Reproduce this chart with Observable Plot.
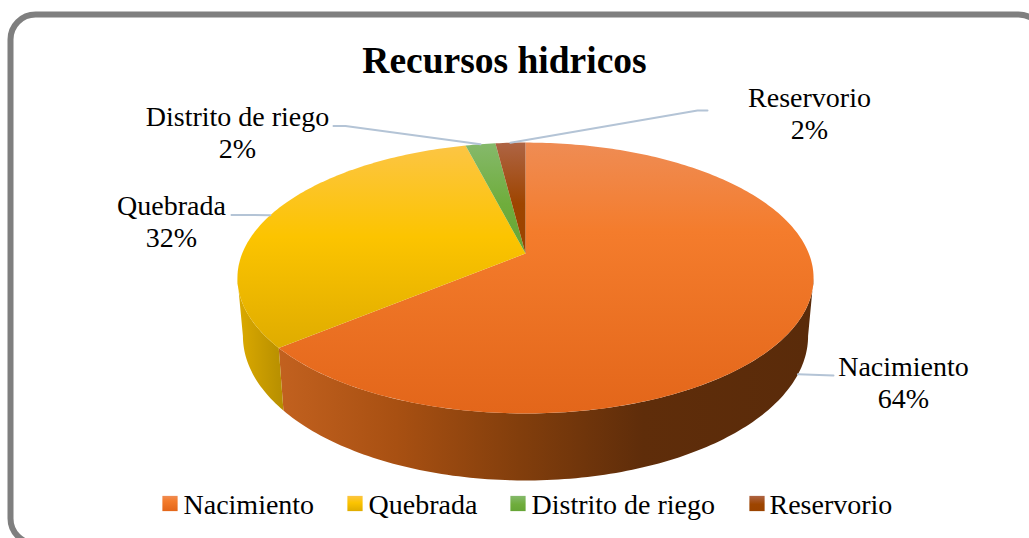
<!DOCTYPE html>
<html><head><meta charset="utf-8">
<style>html,body{margin:0;padding:0;background:#fff;overflow:hidden}</style>
<script src="https://cdn.jsdelivr.net/npm/d3@7"></script>
<script src="https://cdn.jsdelivr.net/npm/@observablehq/plot@0.6"></script>
</head><body>
<script>
const categories = ["Nacimiento", "Quebrada", "Distrito de riego", "Reservorio"];
const values = [64, 32, 2, 2];
const percentLabels = ["64%", "32%", "2%", "2%"];

const W = 1029, H = 538;
const FONT = "'Liberation Serif','Times New Roman',serif";
const k = 0.181;                       // perspective of the tilted disc
const total = d3.sum(values);
const starts = d3.cumsum([0, ...values]);

const topRim = (f) => {
  const a = f * 2 * Math.PI, u = Math.sin(a), v = Math.cos(a), p = 1 + k * v;
  return {X: u / p, Y: v / p};
};
const lowRim = (f) => {
  const a = f * 2 * Math.PI, u = Math.sin(a), v = Math.cos(a), p = 1 + k * v;
  return {X: 0.981 * u / p, Y: -0.4305 + 1.0664 * v / p};
};
const arc = (fn, f0, f1) => {
  const n = Math.max(2, Math.ceil((f1 - f0) * 360));
  return d3.range(n + 1).map((i) => fn(f0 + (f1 - f0) * i / n));
};
const slices = categories.map((name, i) => ({
  name, i, f0: starts[i] / total, f1: starts[i + 1] / total,
  mid: (starts[i] + starts[i + 1]) / 2 / total
}));

const topPieces = slices.map((s) => [{X: 0, Y: 0}, ...arc(topRim, s.f0, s.f1)]);
const band = (f0, f1) => [...arc(topRim, f0, f1), ...arc(lowRim, f0, f1).reverse()];
const sideFront = slices[0].f1, sideRight = 0.279, sideLeft = 0.721;
const sides = [band(sideRight, sideFront), band(sideFront, sideLeft)];

const xDomain = [-525 / 283.3, 504 / 283.3];
const yDomain = [-285 / 131, 253 / 131];
const ux = (px) => (px - 525) / 283.3, uy = (py) => (253 - py) / 131;
const leaders = [
  [{X: ux(833), Y: uy(375)}, lowRim(slices[0].mid)],
  [{X: ux(231), Y: uy(214.5)}, topRim(slices[1].mid)],
  [{X: ux(333), Y: uy(125.5)}, {X: ux(345), Y: uy(125.5)}, topRim(slices[2].mid)],
  [{X: ux(707), Y: uy(110)}, {X: ux(697), Y: uy(110)}, topRim(slices[3].mid)]
];

const labelPos = [[903, 377], [171, 216], [237, 127], [809, 108]];
const legendSwatchX = [169.5, 354.5, 517.5, 756.5];
const legendTextX = [183, 368, 531, 769];
const legendSwatchY = 503;
const legendY = 505;

const topFills = ["url(#t0)", "url(#t1)", "url(#t2)", "url(#t3)"];
const sideFills = ["url(#s0)", "url(#s1)"];
const text = (str, dx, dy, o = {}) => Plot.text([str], {
  text: (d) => d, frameAnchor: "top-left", dx, dy,
  fontFamily: FONT, fontSize: 28, fill: "#000", textAnchor: "middle", lineAnchor: "middle", ...o
});

const chart = Plot.plot({
  width: W, height: H, margin: 0,
  style: {background: "#fff", display: "block"},
  x: {domain: xDomain, range: [0, W], axis: null},
  y: {domain: yDomain, range: [H, 0], axis: null},
  marks: [
    Plot.frame({stroke: "#7f7f7f", strokeWidth: 6, rx: 25, insetLeft: 10, insetTop: 14, insetRight: -14, insetBottom: -5}),
    ...sides.map((pts, i) => Plot.line(pts, {x: "X", y: "Y", fill: sideFills[i], stroke: "none"})),
    ...topPieces.map((pts, i) => Plot.line(pts, {x: "X", y: "Y", fill: topFills[i], stroke: "none"})),
    ...leaders.map((pts) => Plot.line(pts, {x: "X", y: "Y", stroke: "#b4c4d6", strokeWidth: 2, curve: "linear"})),
    text("Recursos hidricos", 504, 60, {fontSize: 37.5, fontWeight: "bold"}),
    ...categories.map((c, i) => text(c, labelPos[i][0], labelPos[i][1] - 10)),
    ...percentLabels.map((c, i) => text(c, labelPos[i][0], labelPos[i][1] + 22)),
    ...categories.map((c, i) => Plot.dot([c], {
      frameAnchor: "top-left", dx: legendSwatchX[i], dy: legendSwatchY, symbol: "square", r: 8.6,
      fill: topFills[i], stroke: "none"
    })),
    ...categories.map((c, i) => text(c, legendTextX[i], legendY, {textAnchor: "start"}))
  ]
});

const ns = "http://www.w3.org/2000/svg";
const defs = document.createElementNS(ns, "defs");
const grad = (id, horizontal, stops) => {
  const g = document.createElementNS(ns, "linearGradient");
  g.setAttribute("id", id);
  g.setAttribute("x1", 0); g.setAttribute("y1", 0);
  g.setAttribute("x2", horizontal ? 1 : 0); g.setAttribute("y2", horizontal ? 0 : 1);
  for (const [o, c] of stops) {
    const s = document.createElementNS(ns, "stop");
    s.setAttribute("offset", o); s.setAttribute("stop-color", c);
    g.appendChild(s);
  }
  defs.appendChild(g);
};
grad("t0", false, [[0, "#ef8c54"], [0.33, "#f47c2c"], [1, "#e3661a"]]);
grad("t1", false, [[0, "#fcc544"], [0.45, "#fcc400"], [1, "#dfac00"]]);
grad("t2", false, [[0, "#85b96b"], [0.55, "#6fad3c"], [1, "#66a536"]]);
grad("t3", false, [[0, "#ae6444"], [0.55, "#9e4500"], [1, "#9a4300"]]);
grad("s0", true, [[0, "#c2611f"], [0.22, "#a85012"], [0.45, "#823e0c"], [0.68, "#5f2d0a"], [1, "#5a2b0a"]]);
grad("s1", true, [[0, "#dcaa00"], [1, "#b68e00"]]);
chart.insertBefore(defs, chart.firstChild);
document.body.appendChild(chart);
</script>
</body></html>
